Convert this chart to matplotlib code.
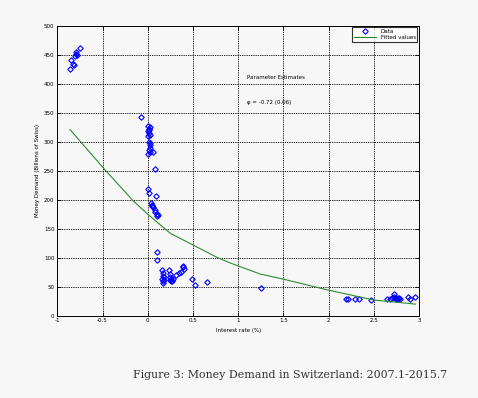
import matplotlib
matplotlib.use("Agg")
import matplotlib.pyplot as plt

# observed data (interest rate %, money demand)
rate = [-0.86, -0.85, -0.83, -0.82, -0.80, -0.79, -0.79, -0.78, -0.75,
        -0.07, 0.00, 0.01, 0.00, 0.01, 0.02, 0.01, 0.00, 0.02, 0.01, 0.02,
        0.03, 0.01, 0.02, 0.00, 0.03, 0.06, 0.08, 0.00, 0.015, 0.095, 0.04,
        0.05, 0.045, 0.06, 0.08, 0.075, 0.10, 0.105, 0.11, 0.10, 0.105,
        0.16, 0.165, 0.17, 0.16, 0.165, 0.17, 0.175, 0.18, 0.24, 0.245,
        0.25, 0.25, 0.255, 0.26, 0.27, 0.28, 0.31, 0.35, 0.37, 0.39, 0.40,
        0.395, 0.49, 0.52, 0.66,
        1.25, 2.19, 2.21, 2.29, 2.34, 2.47, 2.65, 2.68, 2.70, 2.72, 2.72,
        2.73, 2.74, 2.75, 2.76, 2.77, 2.78, 2.79, 2.88, 2.90, 2.96]
money = [426, 441, 434, 432, 448, 452, 455, 449, 461,
         343, 327, 322, 318, 315, 312, 320, 310, 325, 300, 295,
         290, 286, 282, 278, 298, 283, 253, 218, 212, 207, 194,
         191, 189, 188, 182, 178, 176, 172, 174, 109, 96,
         79, 73, 68, 64, 60, 57, 62, 66, 78, 72,
         66, 62, 59, 64, 60, 63, 70, 74, 76, 84, 80,
         86, 64, 53, 58,
         47, 28, 28, 28, 28, 27, 28, 29, 31, 37, 33,
         30, 28, 31, 29, 30, 31, 29, 32, 28, 32]

# fitted values
fit_x = [-0.86, -0.47, -0.16, 0.0, 0.25, 0.5, 0.76, 0.91, 1.24, 1.5, 2.0, 2.5, 2.96]
fit_y = [321, 251, 198, 175, 142, 122, 101, 91, 72, 63, 44, 27, 20]

bg = '#f7f7f7'
fig = plt.figure(figsize=(4.78, 3.98), dpi=100, facecolor=bg)
ax = fig.add_axes([0.1199, 0.2068, 0.7567, 0.7286], facecolor=bg)

ax.plot(rate, money, 'D', color='blue', mfc='none', ms=2.8, mew=0.8, label='Data')
ax.plot(fit_x, fit_y, '-', color='#2e8b2e', lw=0.8, label='Fitted values')

ax.set_xlim(-1, 3)
ax.set_ylim(0, 500)
ax.set_xticks([-1, -0.5, 0, 0.5, 1, 1.5, 2, 2.5, 3])
ax.set_xticklabels(['-1', '-0.5', '0', '0.5', '1', '1.5', '2', '2.5', '3'])
ax.set_yticks(range(0, 501, 50))

ax.grid(True, color='black', linestyle=(0, (1.5, 1.2)), linewidth=0.6)
ax.tick_params(direction='in', top=True, right=True, length=3, width=0.6,
               labelsize=4, pad=2)
for s in ax.spines.values():
    s.set_linewidth(0.7)

ax.set_xlabel('Interest rate (%)', fontsize=4, labelpad=3)
ax.set_ylabel('Money Demand (Billions of Swiss)', fontsize=4, labelpad=3)

ax.text(1.095, 411, 'Parameter Estimates', fontsize=4, va='center', ha='left')
ax.text(1.095, 368, 'φ = -0.72 (0.06)', fontsize=4, va='center', ha='left')

leg = ax.legend(loc='upper right', fontsize=4, frameon=True, fancybox=False,
                borderaxespad=0.3, handlelength=4, borderpad=0.3, labelspacing=0.2)
leg.get_frame().set_edgecolor('black')
leg.get_frame().set_linewidth(0.8)
leg.get_frame().set_facecolor('white')

fig.text(290 / 478, 1 - 375 / 398, 'Figure 3: Money Demand in Switzerland: 2007.1-2015.7',
         fontsize=7.9, family='DejaVu Serif', ha='center', va='center', color='#333333')

fig.savefig('out.png', dpi=100, facecolor=bg)
